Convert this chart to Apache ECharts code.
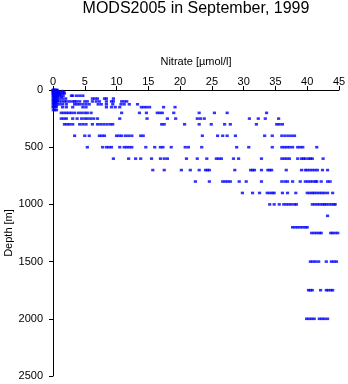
<!DOCTYPE html>
<html>
<head>
<meta charset="utf-8">
<script src="https://cdn.jsdelivr.net/npm/echarts@6/dist/echarts.min.js"></script>
<style>
  html, body { margin: 0; padding: 0; background: #fff; }
  #chart { width: 348px; height: 384px; }
</style>
</head>
<body>
<div id="chart"></div>
<script>
// Nitrate (umol/l) observed at each sampling depth (m)
const nitrate_0 = [0.0, 0.1, 0.2, 0.35, 0.5, 0.65];
const nitrate_5 = [0.05, 0.2, 0.4, 0.6];
const nitrate_10 = [0.0, 0.15, 0.3, 0.5, 0.7, 1.5];
const nitrate_15 = [0.1, 0.3, 0.5];
const nitrate_20 = [0.05, 0.2, 0.4, 0.6, 0.9, 1.2, 1.7];
const nitrate_25 = [0.1, 0.3, 0.5, 0.7];
const nitrate_30 = [0.0, 0.2, 0.4, 0.65, 1.0, 1.5, 1.8];
const nitrate_40 = [0.1, 0.3, 0.5, 0.8, 1.2];
const nitrate_50 = [0.0, 0.2, 0.4, 0.6, 1.0, 1.6, 2.9, 3.1, 3.7, 4.2, 4.7];
const nitrate_60 = [0.1, 0.3, 0.5, 0.7, 1.3];
const nitrate_75 = [0.0, 0.2, 0.4, 0.6, 1.0, 1.5, 2.0, 6.2, 6.6, 7.0, 8.1, 8.4, 9.5];
const nitrate_90 = [0.1, 0.3, 0.5, 0.7];
const nitrate_100 = [0.0, 0.3, 0.6, 1.0, 1.4, 1.8, 2.1, 2.6, 3.1, 3.4, 3.7, 4.2, 5.0, 5.4, 6.2, 6.8, 7.3, 8.4, 9.2, 9.5, 10.8, 11.2, 11.6];
const nitrate_110 = [0.1, 0.3, 0.5];
const nitrate_125 = [0.0, 0.3, 0.6, 1.0, 1.5, 2.1, 3.4, 3.8, 4.2, 4.7, 5.2, 5.7, 7.1, 7.6, 8.4, 9.4, 10.7, 11.2, 12.0, 13.3];
const nitrate_140 = [0.1, 0.3, 0.5];
const nitrate_150 = [0.0, 0.2, 0.5, 1.5, 2.1, 3.1, 4.7, 5.2, 8.4, 9.2, 9.8, 10.5, 13.9, 14.3, 14.7, 15.2, 17.4, 19.2];
const nitrate_175 = [0.05, 0.3, 0.55];
const nitrate_200 = [1.3, 1.7, 2.1, 2.5, 2.9, 3.4, 4.0, 4.5, 5.0, 5.4, 6.0, 10.8, 13.6, 14.7, 16.4, 16.8, 17.2, 19.0, 23.0, 25.4, 27.4, 33.6];
const nitrate_250 = [1.3, 1.7, 2.1, 3.1, 3.8, 4.5, 5.0, 5.4, 5.9, 6.4, 7.0, 10.5, 14.8, 18.0, 19.3, 22.7, 23.2, 23.8, 30.9, 32.3, 33.4, 35.5];
const nitrate_300 = [1.8, 2.2, 2.6, 3.1, 4.2, 4.7, 5.2, 6.2, 7.0, 7.5, 8.0, 8.5, 9.0, 9.4, 17.1, 17.5, 20.7, 23.0, 24.9, 27.0, 27.9, 32.0, 35.2, 35.6, 36.1];
const nitrate_400 = [3.4, 5.0, 5.7, 7.3, 7.7, 8.1, 10.0, 10.4, 10.8, 11.4, 11.9, 12.4, 13.8, 14.2, 23.5, 25.9, 26.7, 27.4, 28.7, 33.3, 34.5, 36.0, 36.5, 37.0, 37.5, 38.0];
const nitrate_500 = [5.4, 7.8, 8.4, 8.8, 9.2, 10.5, 11.2, 11.6, 12.0, 12.4, 14.6, 16.0, 16.9, 17.3, 18.6, 20.8, 21.3, 23.4, 28.9, 30.8, 34.5, 36.0, 36.4, 36.8, 37.2, 37.7, 38.5, 38.9, 39.3, 41.5];
const nitrate_600 = [9.5, 11.9, 13.0, 13.8, 15.5, 16.9, 17.5, 18.0, 21.0, 22.7, 24.2, 25.7, 26.1, 26.5, 28.4, 29.2, 32.8, 36.0, 36.4, 36.8, 37.2, 38.5, 39.1, 39.4, 39.7, 40.2, 40.5, 40.8, 42.5];
const nitrate_700 = [15.7, 17.5, 20.2, 21.6, 23.0, 24.0, 24.3, 24.6, 28.6, 31.1, 31.4, 31.7, 32.8, 33.8, 34.1, 34.4, 36.7, 39.1, 39.7, 40.0, 40.4, 40.8, 41.2, 41.6, 42.4, 43.2];
const nitrate_800 = [22.4, 24.6, 26.7, 27.1, 27.5, 27.9, 29.3, 30.4, 32.8, 36.0, 36.5, 36.9, 37.7, 38.9, 39.7, 40.1, 40.5, 40.9, 41.3, 41.5, 42.2, 43.2, 43.6];
const nitrate_900 = [29.8, 31.4, 32.5, 33.7, 34.1, 34.5, 34.8, 36.1, 36.9, 38.2, 40.0, 40.4, 40.8, 41.1, 41.5, 41.9, 42.3, 42.7, 43.2, 44.0];
const nitrate_1000 = [34.1, 34.8, 35.6, 36.3, 36.7, 37.1, 37.5, 38.0, 38.3, 40.8, 41.2, 41.6, 42.0, 42.4, 42.7, 43.0, 43.4, 43.8, 44.2, 44.4];
const nitrate_1100 = [43.2];
const nitrate_1200 = [37.7, 38.1, 38.5, 38.9, 39.3, 39.7, 40.0];
const nitrate_1250 = [40.7, 41.1, 41.5, 41.9, 42.2, 43.7, 44.0, 44.4, 44.8];
const nitrate_1500 = [40.5, 40.9, 41.3, 41.8, 43.0, 43.8, 44.2, 44.6];
const nitrate_1750 = [40.2, 40.5, 40.8, 42.1, 43.0, 43.3, 43.7, 44.0];
const nitrate_2000 = [39.9, 40.3, 40.7, 41.1, 41.9, 42.3, 42.7, 43.2];

const profiles = [
  [0, nitrate_0], [5, nitrate_5], [10, nitrate_10], [15, nitrate_15],
  [20, nitrate_20], [25, nitrate_25], [30, nitrate_30], [40, nitrate_40],
  [50, nitrate_50], [60, nitrate_60], [75, nitrate_75], [90, nitrate_90],
  [100, nitrate_100], [110, nitrate_110], [125, nitrate_125], [140, nitrate_140],
  [150, nitrate_150], [175, nitrate_175], [200, nitrate_200], [250, nitrate_250],
  [300, nitrate_300], [400, nitrate_400], [500, nitrate_500], [600, nitrate_600],
  [700, nitrate_700], [800, nitrate_800], [900, nitrate_900], [1000, nitrate_1000],
  [1100, nitrate_1100], [1200, nitrate_1200], [1250, nitrate_1250], [1500, nitrate_1500],
  [1750, nitrate_1750], [2000, nitrate_2000]
];

// Axis ticks
const nitrateTicks = [0, 5, 10, 15, 20, 25, 30, 35, 40, 45];
const depthTicks = [0, 500, 1000, 1500, 2000, 2500];

const points = [];
profiles.forEach(([depth, values]) => {
  values.forEach(v => points.push([v, depth]));
});

const FONT = 'Liberation Sans, Arial, Helvetica, sans-serif';

const chart = echarts.init(document.getElementById('chart'), null, { renderer: 'canvas' });
chart.setOption({
  animation: false,
  backgroundColor: '#ffffff',
  title: {
    text: 'MODS2005 in September, 1999',
    left: 191,
    top: -4,
    textAlign: 'center',
    textStyle: { fontFamily: FONT, fontSize: 16, fontWeight: 'normal', color: '#000' }
  },
  grid: { left: 53, top: 90, right: 9, bottom: 8, containLabel: false, outerBoundsMode: 'none' },
  xAxis: {
    type: 'value',
    position: 'top',
    min: nitrateTicks[0],
    max: nitrateTicks[nitrateTicks.length - 1],
    interval: 5,
    name: 'Nitrate [\u00b5mol/l]',
    nameLocation: 'middle',
    nameGap: 23,
    nameMoveOverlap: false,
    nameTextStyle: { fontFamily: FONT, fontSize: 11, color: '#000' },
    axisLine: { show: true, lineStyle: { color: '#000', width: 1 } },
    axisTick: { show: true, inside: false, length: 4, lineStyle: { color: '#000' } },
    axisLabel: { margin: 3, fontFamily: FONT, fontSize: 11, color: '#000', formatter: v => String(v) },
    splitLine: { show: false }
  },
  yAxis: {
    type: 'value',
    inverse: true,
    min: depthTicks[0],
    max: depthTicks[depthTicks.length - 1],
    interval: 500,
    name: 'Depth [m]',
    nameLocation: 'middle',
    nameGap: 39,
    nameRotate: 90,
    nameMoveOverlap: false,
    nameTextStyle: { fontFamily: FONT, fontSize: 11, color: '#000' },
    axisLine: { show: true, lineStyle: { color: '#000', width: 1 } },
    axisTick: { show: true, inside: false, length: 4, lineStyle: { color: '#000' } },
    axisLabel: { margin: 10, fontFamily: FONT, fontSize: 11, color: '#000', formatter: v => String(v) },
    splitLine: { show: false }
  },
  series: [{
    type: 'scatter',
    data: points,
    symbol: 'rect',
    symbolSize: [3.2, 2.6],
    clip: false,
    itemStyle: { color: '#0000ff' }
  }]
});
</script>
</body>
</html>
